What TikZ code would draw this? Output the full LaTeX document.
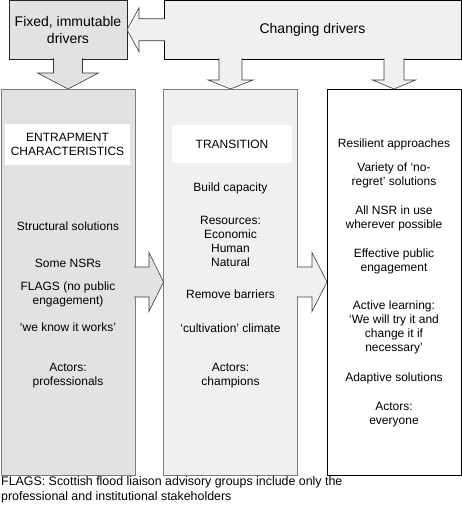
\documentclass[tikz,border=0pt]{standalone}
\usepackage{fontspec}
\setmainfont{Liberation Sans}
\usetikzlibrary{calc}

\definecolor{fixedgray}{HTML}{E2E2E2}
\definecolor{changegray}{HTML}{F0F0F0}
\definecolor{boxline}{HTML}{7C7C7C}
\definecolor{arrowline}{HTML}{3C3C3C}

\begin{document}
\begin{tikzpicture}[
  x=1pt, y=-1pt,
  box/.style={rectangle, draw, line width=0.8pt, inner sep=0pt, outer sep=0pt, anchor=north west},
  driver/.style={box, align=center, font=\fontsize{14}{16.5}\selectfont},
  column/.style={box, minimum width=134pt, minimum height=386pt},
  heading/.style={rectangle, fill=white, inner sep=0pt, align=center, font=\fontsize{12}{14}\selectfont},
  item/.style={align=center, inner sep=0pt, font=\fontsize{12}{14}\selectfont},
  blockarrow/.style={draw=arrowline, line width=0.6pt, line join=miter},
]
\useasboundingbox (0,0) rectangle (462,514);

% Row 1: drivers
\node[driver, draw=black!85, fill=fixedgray, minimum width=118pt, minimum height=58.5pt] (fixed) at (9,0.5) {Fixed, immutable\\drivers};
\node[driver, draw=black, fill=changegray, minimum width=297pt, minimum height=58.5pt] (changing) at (164,0.5) {Changing drivers};

% Row 2: the three stages
\node[column, draw=boxline, fill=fixedgray] (entrap) at (1,89) {};
\node[column, draw=boxline, fill=changegray] (trans) at (163.5,89) {};
\node[column, draw=black, fill=white] (resil) at (327,89) {};

% Block arrows
\filldraw[blockarrow, fill=changegray]
  ($(changing.west)+(1,-11)$) -- ($(changing.west)+(-25,-11)$) -- ($(changing.west)+(-25,-22)$)
  -- (fixed.east) -- ($(changing.west)+(-25,22)$) -- ($(changing.west)+(-25,11)$) -- ($(changing.west)+(1,11)$);
\filldraw[blockarrow, fill=fixedgray]
  ($(fixed.south)+(-14.5,-1)$) -- ($(fixed.south)+(-14.5,14)$) -- ($(fixed.south)+(-30.5,14)$)
  -- (entrap.north) -- ($(fixed.south)+(30.5,14)$) -- ($(fixed.south)+(14.5,14)$) -- ($(fixed.south)+(14.5,-1)$);
\filldraw[blockarrow, fill=changegray]
  ($(trans.north |- changing.south)+(-11.5,-1)$) -- ($(trans.north |- changing.south)+(-11.5,21)$) -- ($(trans.north |- changing.south)+(-22.5,21)$)
  -- (trans.north) -- ($(trans.north |- changing.south)+(22.5,21)$) -- ($(trans.north |- changing.south)+(11.5,21)$) -- ($(trans.north |- changing.south)+(11.5,-1)$);
\filldraw[blockarrow, fill=changegray]
  ($(resil.north |- changing.south)+(-10,-1)$) -- ($(resil.north |- changing.south)+(-10,21)$) -- ($(resil.north |- changing.south)+(-21.5,21)$)
  -- (resil.north) -- ($(resil.north |- changing.south)+(21.5,21)$) -- ($(resil.north |- changing.south)+(10,21)$) -- ($(resil.north |- changing.south)+(10,-1)$);
\filldraw[blockarrow, fill=fixedgray]
  ($(entrap.east)+(-1,-15)$) -- ($(entrap.east)+(14,-15)$) -- ($(entrap.east)+(14,-29.5)$)
  -- (trans.west) -- ($(entrap.east)+(14,29.5)$) -- ($(entrap.east)+(14,15)$) -- ($(entrap.east)+(-1,15)$);
\filldraw[blockarrow, fill=changegray]
  ($(trans.east)+(-1,-15)$) -- ($(trans.east)+(14.5,-15)$) -- ($(trans.east)+(14.5,-29.5)$)
  -- (resil.west) -- ($(trans.east)+(14.5,29.5)$) -- ($(trans.east)+(14.5,15)$) -- ($(trans.east)+(-1,15)$);

% Entrapment column
\node[heading, minimum width=125pt, minimum height=41pt] (entraphead) at (67.5,144.5) {ENTRAPMENT\\CHARACTERISTICS};
\node[item] (structural) at (68,226) {Structural solutions};
\node[item] (somensr) at (68,263) {Some NSRs};
\node[item] (flags) at (68,294) {FLAGS (no public\\engagement)};
\node[item] (weknow) at (68,327) {‘we know it works’};
\node[item] (actorsA) at (68,376) {Actors:\\professionals};

% Transition column
\node[heading, minimum width=120pt, minimum height=38pt] (transhead) at (232,144) {TRANSITION};
\node[item] (capacity) at (230.5,188) {Build capacity};
\node[item] (resources) at (230.5,241) {Resources:\\Economic\\Human\\Natural};
\node[item] (barriers) at (230.5,294) {Remove barriers};
\node[item] (cultivation) at (230.5,328) {‘cultivation’ climate};
\node[item] (actorsB) at (230.5,375.5) {Actors:\\champions};

% Resilient column
\node[item] (resilient) at (394,144) {Resilient approaches};
\node[item] (noregret) at (394,175) {Variety of ‘no-\\regret’ solutions};
\node[item] (allnsr) at (394,218.5) {All NSR in use\\wherever possible};
\node[item] (effective) at (394,261.5) {Effective public\\engagement};
\node[item] (learning) at (394,327.5) {Active learning:\\‘We will try it and\\change it if\\necessary’};
\node[item] (adaptive) at (394,378) {Adaptive solutions};
\node[item] (actorsC) at (394,415) {Actors:\\everyone};

% Footnote
\node[item, align=left, anchor=west, font=\fontsize{12.4}{15}\selectfont] (note) at (1,490)
  {FLAGS: Scottish flood liaison advisory groups include only the\\professional and institutional stakeholders};

\end{tikzpicture}
\end{document}
